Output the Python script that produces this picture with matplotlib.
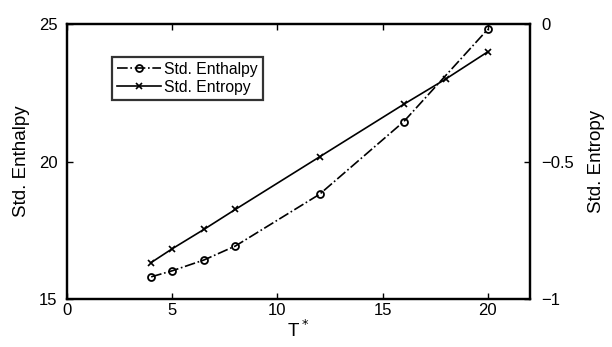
import matplotlib.pyplot as plt

plt.rcParams['font.family'] = ['Liberation Sans', 'DejaVu Sans']

# data
t_enthalpy = [4, 5, 6.5, 8, 12, 16, 20]
enthalpy = [15.81, 16.03, 16.42, 16.93, 18.81, 21.45, 24.81]
t_entropy = [4, 5, 6.5, 8, 12, 16, 18, 20]
entropy = [-0.867, -0.817, -0.747, -0.674, -0.483, -0.292, -0.200, -0.101]

fig = plt.figure(figsize=(6.12, 3.47), dpi=100)
ax1 = fig.add_axes([0.1095, 0.138, 0.7565, 0.793])
ax2 = ax1.twinx()

l1, = ax1.plot(t_enthalpy, enthalpy, color='k', linestyle='-.', lw=1.2,
               marker='o', markersize=5, markerfacecolor='none',
               markeredgewidth=1.3, label='Std. Enthalpy')
l2, = ax2.plot(t_entropy, entropy, color='k', linestyle='-', lw=1.2,
               marker='x', markersize=4, markeredgewidth=1.2,
               label='Std. Entropy')

ax1.set_xlim(0, 22)
ax1.set_ylim(15, 25)
ax2.set_ylim(-1, 0)
ax1.set_xticks([0, 5, 10, 15, 20])
ax1.set_yticks([15, 20, 25])
ax2.set_yticks([-1, -0.5, 0])
ax2.set_yticklabels(['\u22121', '\u22120.5', '0'])

ax1.tick_params(axis='x', direction='in', top=True, length=4, width=1,
                labelsize=12, pad=3)
ax1.tick_params(axis='y', direction='in', length=4, width=1,
                labelsize=12, pad=7)
ax2.tick_params(axis='y', direction='in', length=4, width=1,
                labelsize=12, pad=8)

for ax in (ax1, ax2):
    for s in ax.spines.values():
        s.set_linewidth(1.6)

ax1.set_xlabel('T$^*$', fontsize=13.5, labelpad=1)
ax1.set_ylabel('Std. Enthalpy', fontsize=13.5, labelpad=6)
ax2.set_ylabel('Std. Entropy', fontsize=13.5, labelpad=10)

leg = ax1.legend(handles=[l1, l2], loc='upper left',
                 bbox_to_anchor=(0.097, 0.88), borderaxespad=0,
                 fontsize=11.3, frameon=True, fancybox=False, edgecolor='k',
                 handlelength=2.8, borderpad=0.3, labelspacing=0.2,
                 handletextpad=0.25)
leg.get_frame().set_linewidth(1.6)

fig.savefig('out.png', dpi=100)
